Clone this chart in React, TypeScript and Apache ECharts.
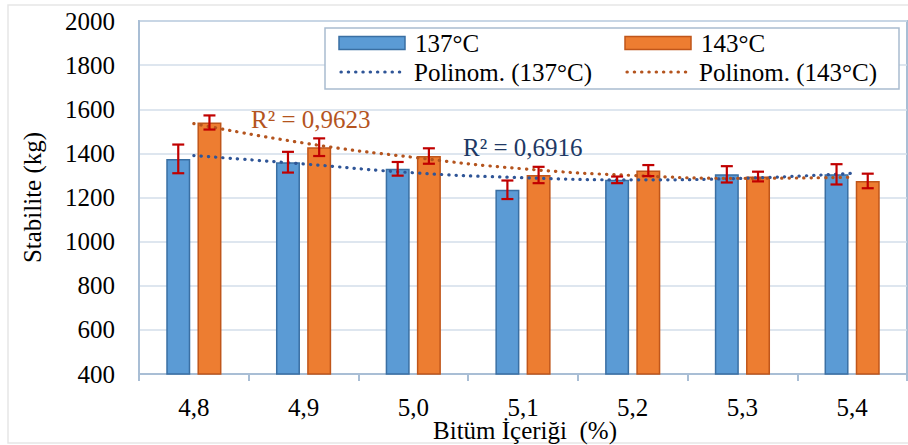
import React, { useEffect, useRef } from "react";
import * as echarts from "echarts";

const categories = ["4,8", "4,9", "5,0", "5,1", "5,2", "5,3", "5,4"];
const stab137 = [1375, 1360, 1330, 1235, 1280, 1305, 1305];
const stab143 = [1540, 1428, 1388, 1302, 1322, 1295, 1275];
const err137 = [65, 47, 31, 42, 15, 37, 46];
const err143 = [32, 40, 35, 37, 25, 22, 33];
const trend137 = [1390, 1352, 1312, 1290, 1280, 1287, 1310];
const trend143 = [1535, 1447, 1382, 1330, 1300, 1287, 1292];
const r2_137 = "R² = 0,6916";
const r2_143 = "R² = 0,9623";
const seriesNames = ["137°C", "143°C", "Polinom. (137°C)", "Polinom. (143°C)"];
const yTicks = { min: 400, max: 2000, interval: 200 };
const xTitle = "Bitüm İçeriği  (%)";
const yTitle = "Stabilite (kg)";

const FONT = "Liberation Serif";
const BLUE = "#5b9bd5";
const BLUE_EDGE = "#3a6fa3";
const ORANGE = "#ed7d31";
const ORANGE_EDGE = "#c0561a";
const TREND_BLUE = "#2f5597";
const TREND_ORANGE = "#b4541e";
const BAR_W = 24;
const BAR_GAP = 0.3;
const OFFSET = (BAR_W + BAR_W * BAR_GAP) / 2;
const GRID = { left: 139, top: 21, right: 1, bottom: 71 };

function errorSeries(name: string, vals: number[], errs: number[], dir: number) {
  return {
    type: "custom",
    name: name + "_err",
    z: 5,
    encode: { x: 0, y: 1 },
    data: vals.map((v, i) => [i, v, errs[i]]),
    renderItem: (params: any, api: any) => {
      const idx = api.value(0);
      const v = api.value(1);
      const e = api.value(2);
      const top = api.coord([idx, v + e]);
      const bot = api.coord([idx, v - e]);
      const x = top[0] + dir * OFFSET;
      const cw = 6;
      const st = { stroke: "#c00000", lineWidth: 2.2 };
      return {
        type: "group",
        children: [
          { type: "line", shape: { x1: x, y1: top[1], x2: x, y2: bot[1] }, style: st },
          { type: "line", shape: { x1: x - cw, y1: top[1], x2: x + cw, y2: top[1] }, style: st },
          { type: "line", shape: { x1: x - cw, y1: bot[1], x2: x + cw, y2: bot[1] }, style: st },
        ],
      };
    },
  };
}

function txt(text: string, x: number, y: number, align: string, extra: any = {}) {
  return {
    type: "text",
    z: 6,
    x,
    y,
    ...extra,
    style: {
      text,
      fill: extra.fill || "#000",
      fontFamily: FONT,
      fontSize: 25,
      align,
      verticalAlign: "middle",
    },
  };
}

export default function App() {
  const ref = useRef<HTMLDivElement>(null);
  useEffect(() => {
    if (!ref.current) return;
    const chart = echarts.init(ref.current, null, { renderer: "svg" });
    chart.setOption({
      animation: false,
      backgroundColor: "#fff",
      grid: {
        ...GRID,
        show: true,
        borderColor: "#a9bed5",
        borderWidth: 2,
      },
      xAxis: {
        type: "category",
        data: categories,
        axisLine: { show: true, lineStyle: { color: "#a9bed5", width: 2 } },
        axisTick: { show: true, length: 7, lineStyle: { color: "#a9bed5", width: 2 } },
        axisLabel: { show: false },
      },
      yAxis: {
        type: "value",
        min: yTicks.min,
        max: yTicks.max,
        interval: yTicks.interval,
        axisLine: { show: true, lineStyle: { color: "#a9bed5", width: 2 } },
        axisTick: { show: false },
        axisLabel: { show: false },
        splitLine: { lineStyle: { color: "#d3deea", width: 1.5 } },
      },
      series: [
        {
          type: "bar",
          name: seriesNames[0],
          data: stab137,
          barWidth: BAR_W,
          barGap: "30%",
          itemStyle: { color: BLUE, borderColor: BLUE_EDGE, borderWidth: 1.5 },
        },
        {
          type: "bar",
          name: seriesNames[1],
          data: stab143,
          barWidth: BAR_W,
          barGap: "30%",
          itemStyle: { color: ORANGE, borderColor: ORANGE_EDGE, borderWidth: 1.5 },
        },
        {
          type: "line",
          name: seriesNames[2],
          data: trend137,
          smooth: true,
          symbol: "none",
          z: 4,
          lineStyle: { color: TREND_BLUE, width: 3.2, type: [0.3, 7], cap: "round" },
        },
        {
          type: "line",
          name: seriesNames[3],
          data: trend143,
          smooth: true,
          symbol: "none",
          z: 4,
          lineStyle: { color: TREND_ORANGE, width: 3.2, type: [0.3, 7], cap: "round" },
        },
        errorSeries("137", stab137, err137, -1),
        errorSeries("143", stab143, err143, 1),
      ],
    });

    // Tick labels and titles positioned through the chart's own axes
    const axisBottom = chart.convertToPixel({ yAxisIndex: 0 }, yTicks.min) as number;
    const axisTop = chart.convertToPixel({ yAxisIndex: 0 }, yTicks.max) as number;
    const xFirst = chart.convertToPixel({ xAxisIndex: 0 }, 0) as number;
    const xLast = chart.convertToPixel({ xAxisIndex: 0 }, categories.length - 1) as number;
    const xLabels = categories.map((c, i) =>
      txt(c, chart.convertToPixel({ xAxisIndex: 0 }, i) as number, axisBottom + 33, "center")
    );
    const yLabels: any[] = [];
    for (let v = yTicks.min; v <= yTicks.max; v += yTicks.interval) {
      yLabels.push(txt(String(v), GRID.left - 24, chart.convertToPixel({ yAxisIndex: 0 }, v) as number, "right"));
    }
    const plotMidX = (xFirst + xLast) / 2 + 2;
    const plotMidY = (axisBottom + axisTop) / 2;

    const legendBox = { x: 325, y: 28, width: 574, height: 61 };
    const row1 = 43;
    const row2 = 72;
    const col1 = 339;
    const col2 = 625;
    const iconW = 66;
    const dotted = (x: number, y: number, color: string) => ({
      type: "line",
      z: 5,
      shape: { x1: x + 2, y1: y, x2: x + iconW - 2, y2: y },
      style: { stroke: color, lineWidth: 3.2, lineDash: [0.3, 7], lineCap: "round" },
    });

    chart.setOption({
      graphic: [
        {
          type: "rect",
          z: -1,
          shape: { x: 8, y: 5, width: 905, height: 438 },
          style: { fill: "none", stroke: "#e6e6e6", lineWidth: 1.5 },
        },
        {
          type: "rect",
          z: 3,
          shape: legendBox,
          style: { fill: "#fff", stroke: "#a9bccf", lineWidth: 1.5 },
        },
        {
          type: "rect",
          z: 5,
          shape: { x: col1, y: row1 - 6.5, width: iconW, height: 13 },
          style: { fill: BLUE, stroke: BLUE_EDGE, lineWidth: 1.5 },
        },
        {
          type: "rect",
          z: 5,
          shape: { x: col2, y: row1 - 6.5, width: iconW, height: 13 },
          style: { fill: ORANGE, stroke: ORANGE_EDGE, lineWidth: 1.5 },
        },
        dotted(col1, row2, TREND_BLUE),
        dotted(col2, row2, TREND_ORANGE),
        txt(seriesNames[0], col1 + iconW + 10, row1, "left"),
        txt(seriesNames[1], col2 + iconW + 10, row1, "left"),
        txt(seriesNames[2], col1 + iconW + 9, row2, "left"),
        txt(seriesNames[3], col2 + iconW + 8, row2, "left"),
        txt(r2_143, 251, 119, "left", { fill: TREND_ORANGE }),
        txt(r2_137, 463, 147, "left", { fill: "#203864" }),
        ...xLabels,
        ...yLabels,
        txt(xTitle, plotMidX, axisBottom + 56, "center"),
        txt(yTitle, 32, plotMidY, "center", { rotation: Math.PI / 2 }),
      ],
    });
    return () => chart.dispose();
  }, []);
  return (
    <div
      ref={ref}
      style={{ position: "fixed", left: 0, top: 0, width: 908, height: 445 }}
    />
  );
}
